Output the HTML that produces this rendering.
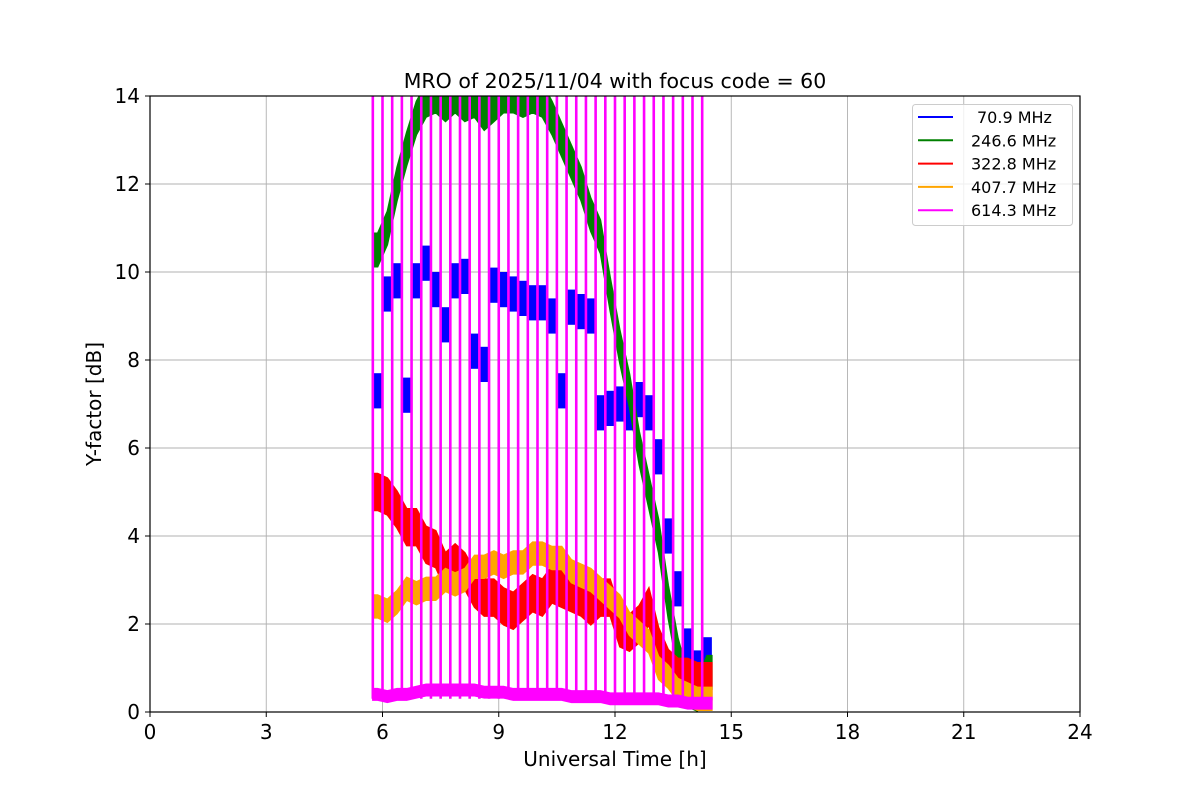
<!DOCTYPE html>
<html><head><meta charset="utf-8"><style>
body{margin:0;background:#fff;}
svg{display:block;font-family:"DejaVu Sans","Liberation Sans",sans-serif;}
</style></head><body>
<svg id="chart" width="1200" height="800" viewBox="0 0 1200 800">
<defs><clipPath id="plotclip"><rect x="150" y="96" width="930" height="616"/></clipPath></defs>
<rect x="0" y="0" width="1200" height="800" fill="#fff"/>
<g id="grid"></g>
<g id="series" clip-path="url(#plotclip)"></g>
<rect x="150" y="96" width="930" height="616" fill="none" stroke="#000" stroke-width="1.2"/>
<g id="ticks"></g>
<text x="615" y="88" text-anchor="middle" font-size="20.5">MRO of 2025/11/04 with focus code = 60</text>
<text x="615" y="766" text-anchor="middle" font-size="20">Universal Time [h]</text>
<text x="101" y="404" text-anchor="middle" font-size="20" transform="rotate(-90 101 404)">Y-factor [dB]</text>
<g>
<rect x="912.5" y="104.5" width="160" height="121" rx="3" fill="#fff" fill-opacity="0.8" stroke="#ccc"/>
<g id="legend-entries"></g>
</g>
</svg>
<script>
const xTicks=[0,3,6,9,12,15,18,21,24];
const yTicks=[0,2,4,6,8,10,14,12];
const seriesNames=[" 70.9 MHz","246.6 MHz","322.8 MHz","407.7 MHz","614.3 MHz"];
const seriesColors=["#0000ff","#008000","#ff0000","#ffa500","#ff00ff"];
const segTimes=[5.875,6.125,6.375,6.625,6.875,7.125,7.375,7.625,7.875,8.125,8.375,8.625,8.875,9.125,9.375,9.625,9.875,10.125,10.375,10.625,10.875,11.125,11.375,11.625,11.875,12.125,12.375,12.625,12.875,13.125,13.375,13.625,13.875,14.125,14.375];
const blueVals=[7.3,9.5,9.8,7.2,9.8,10.2,9.6,8.8,9.8,9.9,8.2,7.9,9.7,9.6,9.5,9.4,9.3,9.3,9.0,7.3,9.2,9.1,9.0,6.8,6.9,7.0,6.8,7.1,6.8,5.8,4.0,2.8,1.5,1.0,1.3];
const greenVals=[10.5,11.0,12.0,12.8,13.5,13.9,14.0,13.8,14.0,13.8,13.9,13.6,13.8,14.0,14.0,13.9,14.0,13.9,13.5,13.0,12.5,12.0,11.3,10.8,9.5,8.3,7.3,6.0,5.0,4.0,2.5,1.3,0.5,0.4,0.9];
const redVals=[5.0,4.9,4.6,4.2,4.2,3.8,3.7,3.2,3.4,3.2,2.8,2.6,2.6,2.4,2.3,2.5,2.7,2.6,2.9,2.8,2.7,2.6,2.4,2.6,2.6,1.9,1.8,2.0,2.4,1.5,1.0,0.8,0.8,0.7,0.7];
const orangeVals=[2.4,2.3,2.5,2.8,2.7,2.8,2.8,3.0,2.9,3.0,3.3,3.3,3.4,3.3,3.4,3.4,3.6,3.6,3.5,3.5,3.2,3.1,3.0,2.8,2.6,2.4,2.0,1.8,1.6,1.0,0.8,0.5,0.4,0.3,0.3];
const magentaVals=[0.4,0.35,0.4,0.4,0.45,0.5,0.5,0.5,0.5,0.5,0.5,0.45,0.45,0.45,0.4,0.4,0.4,0.4,0.4,0.4,0.35,0.35,0.35,0.35,0.3,0.3,0.3,0.3,0.3,0.3,0.25,0.25,0.2,0.2,0.2];
const bandHalf=[0.4,0.38,0.42,0.26,0.13];
const spikeTimes=[];
for(let i=0;i<35;i++) spikeTimes.push(5.75+0.25*i);
const spikeTop=16;

const X=t=>150+t*930/24;
const Y=v=>712-v*616/14;
const NS="http://www.w3.org/2000/svg";
function mk(tag,attrs,parent){const e=document.createElementNS(NS,tag);for(const k in attrs)e.setAttribute(k,attrs[k]);parent.appendChild(e);return e;}

const grid=document.getElementById('grid'),ticks=document.getElementById('ticks'),ser=document.getElementById('series');
xTicks.forEach(t=>{
  const l=mk('line',{x1:X(t),x2:X(t),y1:96,y2:712,stroke:'#b0b0b0','stroke-width':0.9},grid);
  
  
  const k=mk('line',{x1:X(t),x2:X(t),y1:712,y2:717,stroke:'#000'},ticks);
  
  
  const tx=mk('text',{x:X(t),y:739,'text-anchor':'middle','font-size':20},ticks);tx.textContent=t;
  
  
});
yTicks.forEach(v=>{
  const l=mk('line',{x1:150,x2:1080,y1:Y(v),y2:Y(v),stroke:'#b0b0b0','stroke-width':0.9},grid);
  
  
  const k=mk('line',{x1:145,x2:150,y1:Y(v),y2:Y(v),stroke:'#000'},ticks);
  
  
  const tx=mk('text',{x:140,y:Y(v)+7,'text-anchor':'end','font-size':20},ticks);tx.textContent=v;
  
  
});

function band(vals,half,color,name,step){
  if(step){
    vals.forEach((v,i)=>{
      const t0=segTimes[i]-0.125,t1=segTimes[i]+0.125;
      const p=mk('rect',{x:X(t0),y:Y(v+half),width:X(t1)-X(t0),height:Y(v-half)-Y(v+half),fill:color},ser);
      
      
    });
    return;
  }
  const up=vals.map((v,i)=>X(segTimes[i])+','+Y(v+half));
  const dn=vals.map((v,i)=>X(segTimes[i])+','+Y(v-half)).reverse();
  const startT=5.75,endT=14.5;
  const pts=[X(startT)+','+Y(vals[0]+half)].concat(up,[X(endT)+','+Y(vals[vals.length-1]+half),X(endT)+','+Y(vals[vals.length-1]-half)],dn,[X(startT)+','+Y(vals[0]-half)]);
  const p=mk('polygon',{points:pts.join(' '),fill:color,stroke:color,'stroke-width':1.5},ser);
  
  
}
band(blueVals,bandHalf[0],seriesColors[0],'series-70-9mhz',true);
band(greenVals,bandHalf[1],seriesColors[1],'series-246-6mhz',false);
band(redVals,bandHalf[2],seriesColors[2],'series-322-8mhz',false);
band(orangeVals,bandHalf[3],seriesColors[3],'series-407-7mhz',false);
band(magentaVals,bandHalf[4],seriesColors[4],'series-614-3mhz',false);
spikeTimes.forEach(t=>{
  const l=mk('line',{x1:X(t),x2:X(t),y1:Y(0.3),y2:Y(spikeTop),stroke:seriesColors[4],'stroke-width':2.6},ser);
  
  
});

const leg=document.getElementById('legend-entries');
seriesNames.forEach((n,i)=>{
  const y=117+i*23.3;
  const l=mk('line',{x1:918,x2:953,y1:y,y2:y,stroke:seriesColors[i],'stroke-width':2},leg);
  
  
  const tx=mk('text',{x:971,y:y+6,'font-size':16},leg);
  tx.textContent=n.trim();
  if(n.startsWith(' ')) tx.setAttribute('x',977);
  
  
});
</script>
</body></html>
